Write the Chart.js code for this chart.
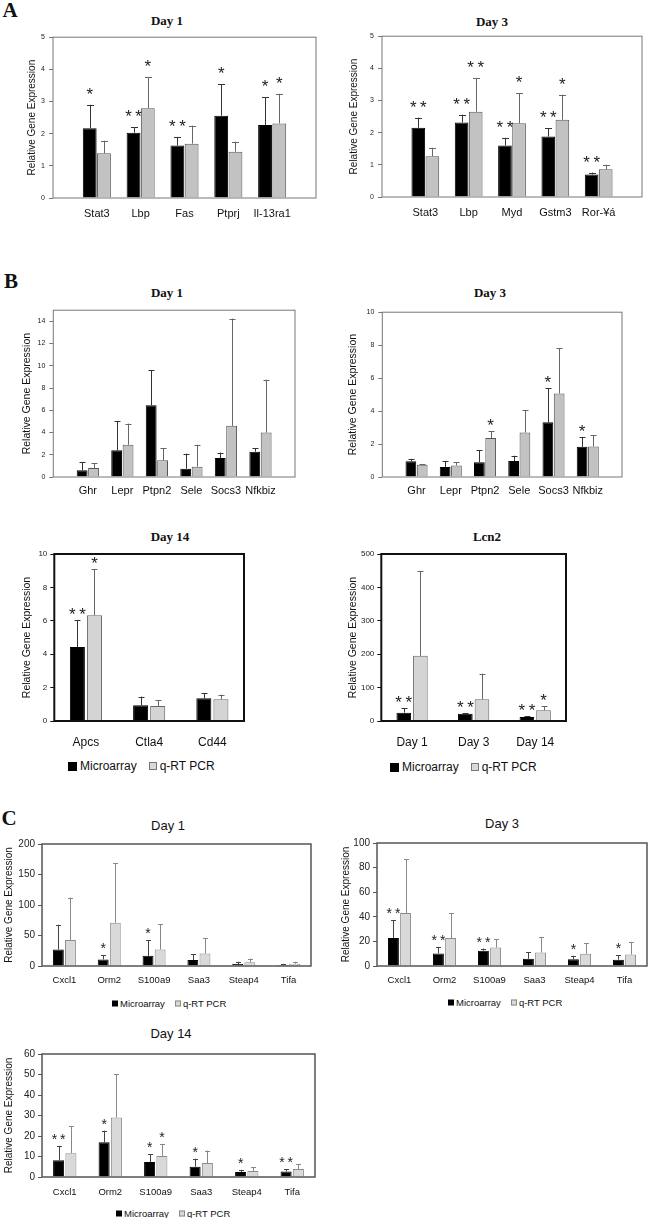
<!DOCTYPE html>
<html>
<head>
<meta charset="utf-8">
<script src="https://cdn.jsdelivr.net/npm/chart.js@4.4.1/dist/chart.umd.min.js"></script>
<style>
  body { margin: 0; background: #fff; width: 650px; height: 1218px; position: relative; overflow: hidden;
         font-family: "Liberation Sans", Arial, sans-serif; color: #111; }
  canvas { position: absolute; }
  .t { position: absolute; transform: translate(-50%, -50%); white-space: nowrap; }
  .serif { font-family: "Liberation Serif", "Times New Roman", serif; font-weight: bold; }
  .lg { position: absolute; transform: translateY(-50%); display: flex; align-items: center; white-space: nowrap; }
  .sw { display: inline-block; box-sizing: border-box; }
</style>
</head>
<body>
<div class="t serif" style="left:10px;top:10px;font-size:21px">A</div>
<div class="t serif" style="left:167px;top:21px;font-size:13px">Day 1</div>
<div class="t serif" style="left:492px;top:22px;font-size:13px">Day 3</div>
<div class="t serif" style="left:11px;top:281px;font-size:21px">B</div>
<div class="t serif" style="left:167px;top:293px;font-size:13px">Day 1</div>
<div class="t serif" style="left:490px;top:293px;font-size:13px">Day 3</div>
<div class="t serif" style="left:170px;top:537px;font-size:13px">Day 14</div>
<div class="t serif" style="left:487px;top:537px;font-size:13px">Lcn2</div>
<div class="t serif" style="left:9px;top:818px;font-size:21px">C</div>
<div class="t" style="left:168px;top:825px;font-size:13px">Day 1</div>
<div class="t" style="left:502px;top:823px;font-size:13px">Day 3</div>
<div class="t" style="left:171px;top:1033px;font-size:13px">Day 14</div>

<div class="lg" style="left:68px;top:766px;font-size:12px">
  <span class="sw" style="width:9px;height:9px;background:#000"></span><span style="margin:0 12px 0 3px">Microarray</span>
  <span class="sw" style="width:8px;height:8px;background:#d9d9d9;border:1px solid #777"></span><span style="margin-left:3px">q-RT PCR</span>
</div>
<div class="lg" style="left:390px;top:767px;font-size:12px">
  <span class="sw" style="width:9px;height:9px;background:#000"></span><span style="margin:0 12px 0 3px">Microarray</span>
  <span class="sw" style="width:8px;height:8px;background:#d9d9d9;border:1px solid #777"></span><span style="margin-left:3px">q-RT PCR</span>
</div>
<div class="lg" style="left:112px;top:1003px;font-size:9.5px">
  <span class="sw" style="width:6px;height:6px;background:#000"></span><span style="margin:0 10px 0 2px">Microarray</span>
  <span class="sw" style="width:6px;height:6px;background:#d9d9d9;border:1px solid #888"></span><span style="margin-left:2px">q-RT PCR</span>
</div>
<div class="lg" style="left:448px;top:1002px;font-size:9.5px">
  <span class="sw" style="width:6px;height:6px;background:#000"></span><span style="margin:0 10px 0 2px">Microarray</span>
  <span class="sw" style="width:6px;height:6px;background:#d9d9d9;border:1px solid #888"></span><span style="margin-left:2px">q-RT PCR</span>
</div>
<div class="lg" style="left:116px;top:1213px;font-size:9.5px">
  <span class="sw" style="width:6px;height:6px;background:#000"></span><span style="margin:0 10px 0 2px">Microarray</span>
  <span class="sw" style="width:6px;height:6px;background:#d9d9d9;border:1px solid #888"></span><span style="margin-left:2px">q-RT PCR</span>
</div>

<canvas id="a1"></canvas>
<canvas id="a3"></canvas>
<canvas id="b1"></canvas>
<canvas id="b3"></canvas>
<canvas id="b14"></canvas>
<canvas id="lcn2"></canvas>
<canvas id="c1"></canvas>
<canvas id="c3"></canvas>
<canvas id="c14"></canvas>

<script>
// A - Day 1
const a1Genes = ['Stat3', 'Lbp', 'Fas', 'Ptprj', 'Il-13ra1'];
const a1Micro = [2.17, 2.03, 1.63, 2.56, 2.27];
const a1MicroSd = [0.73, 0.17, 0.27, 0.98, 0.86];
const a1Pcr = [1.39, 2.79, 1.69, 1.44, 2.32];
const a1PcrSd = [0.39, 0.96, 0.56, 0.31, 0.92];
const a1MicroSig = ['*', '**', '**', '*', '*'];
const a1PcrSig = ['', '*', '', '', '*'];

// A - Day 3
const a3Genes = ['Stat3', 'Lbp', 'Myd', 'Gstm3', 'Ror-¥á'];
const a3Micro = [2.15, 2.32, 1.60, 1.88, 0.70];
const a3MicroSd = [0.32, 0.24, 0.24, 0.25, 0.06];
const a3Pcr = [1.27, 2.65, 2.29, 2.40, 0.86];
const a3PcrSd = [0.26, 1.05, 0.93, 0.78, 0.14];
const a3MicroSig = ['**', '**', '**', '**', '**'];
const a3PcrSig = ['', '**', '*', '*', ''];

// B - Day 1 / Day 3
const bGenes = ['Ghr', 'Lepr', 'Ptpn2', 'Sele', 'Socs3', 'Nfkbiz'];
const b1Micro = [0.6, 2.4, 6.45, 0.75, 1.7, 2.28];
const b1MicroSd = [0.75, 2.6, 3.15, 1.35, 0.5, 0.32];
const b1Pcr = [0.8, 2.9, 1.5, 0.93, 4.6, 4.0];
const b1PcrSd = [0.46, 1.9, 1.1, 1.97, 9.65, 4.75];
const b1MicroSig = ['', '', '', '', '', ''];
const b1PcrSig = ['', '', '', '', '', ''];

const b3Micro = [0.95, 0.6, 0.9, 0.97, 3.32, 1.83];
const b3MicroSd = [0.15, 0.37, 0.73, 0.32, 2.07, 0.58];
const b3Pcr = [0.75, 0.7, 2.37, 2.7, 5.07, 1.85];
const b3PcrSd = [0.02, 0.2, 0.41, 1.34, 2.73, 0.69];
const b3MicroSig = ['', '', '', '', '*', '*'];
const b3PcrSig = ['', '', '*', '', '', ''];

// B - Day 14
const b14Genes = ['Apcs', 'Ctla4', 'Cd44'];
const b14Micro = [4.43, 0.94, 1.36];
const b14MicroSd = [1.62, 0.52, 0.3];
const b14Pcr = [6.33, 0.9, 1.3];
const b14PcrSd = [2.75, 0.36, 0.28];
const b14MicroSig = ['**', '', ''];
const b14PcrSig = ['*', '', ''];

// B - Lcn2
const lcnDays = ['Day 1', 'Day 3', 'Day 14'];
const lcnMicro = [25, 22, 12];
const lcnMicroSd = [14, 2, 3];
const lcnPcr = [195, 65, 32];
const lcnPcrSd = [254, 77, 13];
const lcnMicroSig = ['**', '**', '**'];
const lcnPcrSig = ['', '', '*'];

// C
const cGenes = ['Cxcl1', 'Orm2', 'S100a9', 'Saa3', 'Steap4', 'Tifa'];
const c1Micro = [27, 10.8, 16.8, 9.7, 3.2, 1.6];
const c1MicroSd = [40.6, 6.5, 25.2, 9.8, 3.8, 1.1];
const c1Pcr = [42.7, 70.8, 27, 20.5, 6, 3.8];
const c1PcrSd = [69.3, 97.8, 41.6, 24.9, 6, 3.2];
const c1MicroSig = ['', '*', '*', '', '', ''];
const c1PcrSig = ['', '', '', '', '', ''];

const c3Micro = [22.8, 10.2, 12.4, 5.9, 5.4, 5.1];
const c3MicroSd = [14.2, 5.4, 1.8, 5.4, 2.9, 3.8];
const c3Pcr = [43, 22.8, 15, 11, 9.9, 9.4];
const c3PcrSd = [43.8, 20.2, 6.8, 12.7, 8.4, 10.2];
const c3MicroSig = ['**', '**', '**', '', '*', '*'];
const c3PcrSig = ['', '', '', '', '', ''];

const c14Micro = [8.2, 16.9, 7.3, 5.0, 2.4, 2.7];
const c14MicroSd = [7.0, 5.7, 3.7, 3.9, 1.1, 1.0];
const c14Pcr = [11.6, 29, 10.3, 6.8, 2.9, 3.9];
const c14PcrSd = [13.2, 21, 5.8, 6.1, 1.9, 2.4];
const c14MicroSig = ['**', '*', '*', '*', '*', '**'];
const c14PcrSig = ['', '', '*', '', '', ''];

const SANS = "'Liberation Sans', Arial, sans-serif";

// error bars, significance stars and the box around the plot
const barExtras = {
  id: 'barExtras',
  afterDatasetsDraw(chart, args, o) {
    const ctx = chart.ctx;
    const ys = chart.scales.y;
    const area = chart.chartArea;
    ctx.save();
    chart.data.datasets.forEach((ds, i) => {
      chart.getDatasetMeta(i).data.forEach((bar, j) => {
        const v = ds.data[j];
        if (v == null) return;
        const top = ys.getPixelForValue(v + ds.sd[j]);
        const x = Math.round(bar.x) + 0.5;
        ctx.strokeStyle = ds.errColor;
        ctx.lineWidth = 1;
        ctx.beginPath();
        ctx.moveTo(x, bar.y);
        ctx.lineTo(x, top);
        ctx.moveTo(x - o.cap / 2, Math.round(top) + 0.5);
        ctx.lineTo(x + o.cap / 2, Math.round(top) + 0.5);
        ctx.stroke();

        const sig = ds.sig[j];
        if (sig) {
          ctx.font = o.starSize + 'px ' + SANS;
          ctx.fillStyle = '#222';
          ctx.textAlign = 'center';
          ctx.textBaseline = 'alphabetic';
          const m = ctx.measureText('*');
          const cy = top - o.starGap;
          const base = cy - (m.actualBoundingBoxDescent - m.actualBoundingBoxAscent) / 2;
          const step = o.starSize * 0.6;
          for (let k = 0; k < sig.length; k++) {
            ctx.fillText('*', bar.x + (k - (sig.length - 1) / 2) * step, base);
          }
        }
      });
    });
    ctx.strokeStyle = o.frameColor;
    ctx.lineWidth = o.frameWidth;
    ctx.strokeRect(area.left, area.top, area.right - area.left, area.bottom - area.top);
    ctx.restore();
  }
};

function makeChart(id, s) {
  const wrap = arr => s.padEnds ? [null, ...arr, null] : arr;
  const labels = s.padEnds ? ['', ...s.labels, ''] : s.labels;
  const left = s.titleX - 0.6 * s.titleSize;
  const yw = s.box.l - left;
  const canvas = document.getElementById(id);
  canvas.width = Math.round(s.box.r - left + 4);
  canvas.height = s.box.b - s.box.t + 8 + 30;
  canvas.style.left = left + 'px';
  canvas.style.top = (s.box.t - 8) + 'px';

  new Chart(canvas, {
    type: 'bar',
    data: {
      labels: labels,
      datasets: [
        { label: 'Microarray', data: wrap(s.micro), sd: wrap(s.microSd), sig: wrap(s.microSig),
          backgroundColor: '#000', borderColor: '#000', borderWidth: 1, errColor: s.errDark,
          categoryPercentage: s.catPct, barPercentage: s.barPct },
        { label: 'q-RT PCR', data: wrap(s.pcr), sd: wrap(s.pcrSd), sig: wrap(s.pcrSig),
          backgroundColor: s.gray, borderColor: s.grayEdge, borderWidth: 1, errColor: s.errLight,
          categoryPercentage: s.catPct, barPercentage: s.barPct }
      ]
    },
    options: {
      responsive: false,
      animation: false,
      layout: { padding: { top: 8, right: 4, left: 0, bottom: 0 } },
      plugins: {
        legend: { display: false },
        tooltip: { enabled: false },
        barExtras: { cap: s.cap, starSize: s.starSize, starGap: s.starGap,
                     frameColor: s.frameColor, frameWidth: s.frameWidth }
      },
      scales: {
        x: {
          offset: !s.padEnds,
          grid: { display: false, tickLength: 0 },
          border: { display: false },
          ticks: { font: { size: s.xFont, family: SANS }, color: '#111', padding: s.xPad,
                    maxRotation: 0, autoSkip: false },
          afterFit: sc => { sc.height = 30; }
        },
        y: {
          min: 0,
          max: s.max,
          afterBuildTicks: sc => { sc.ticks = sc.ticks.filter(t => t.value % s.step === 0); },
          ticks: { stepSize: s.step, font: { size: s.tickFont, family: SANS }, color: '#222', padding: s.tickPad },
          grid: { drawOnChartArea: false, tickLength: 4, color: s.frameColor },
          border: { display: false },
          title: { display: true, text: 'Relative Gene Expression', color: '#111', padding: 0,
                   font: { size: s.titleSize, family: SANS } },
          afterFit: sc => { sc.width = yw; }
        }
      }
    },
    plugins: [barExtras]
  });
}

const styleA = { padEnds: true, catPct: 0.65, barPct: 0.97, gray: '#c2c2c2', grayEdge: '#555',
                 errDark: '#333', errLight: '#666', cap: 7, starSize: 17, starGap: 14,
                 frameColor: '#777', frameWidth: 1, tickFont: 7, tickPad: 4, xFont: 11, xPad: 9, titleSize: 10 };
const styleB14 = { padEnds: false, catPct: 0.54, barPct: 0.88, gray: '#d4d4d4', grayEdge: '#666',
                   errDark: '#333', errLight: '#666', cap: 6, starSize: 17, starGap: 9,
                   frameColor: '#111', frameWidth: 2, tickFont: 8, tickPad: 3, xFont: 12, xPad: 14, titleSize: 10.5 };
const styleC = { padEnds: false, catPct: 0.54, barPct: 0.9, gray: '#d9d9d9', grayEdge: '#8c8c8c',
                 errDark: '#444', errLight: '#888', cap: 5, starSize: 14, starGap: 9,
                 frameColor: '#555', frameWidth: 1.5, tickFont: 10, tickPad: 3, xFont: 9.5, xPad: 9, titleSize: 10 };

makeChart('a1', Object.assign({}, styleA, {
  box: { l: 53, t: 37, r: 321, b: 198 }, titleX: 32, max: 5, step: 1,
  labels: a1Genes, micro: a1Micro, microSd: a1MicroSd, pcr: a1Pcr, pcrSd: a1PcrSd,
  microSig: a1MicroSig, pcrSig: a1PcrSig }));

makeChart('a3', Object.assign({}, styleA, {
  box: { l: 382, t: 36, r: 647, b: 197 }, titleX: 354, max: 5, step: 1,
  labels: a3Genes, micro: a3Micro, microSd: a3MicroSd, pcr: a3Pcr, pcrSd: a3PcrSd,
  microSig: a3MicroSig, pcrSig: a3PcrSig }));

makeChart('b1', Object.assign({}, styleA, {
  box: { l: 53, t: 310, r: 298, b: 477 }, titleX: 27, max: 15, step: 2, catPct: 0.66, barPct: 0.95,
  xPad: 7, titleSize: 10.5, starGap: 9, cap: 6,
  labels: bGenes, micro: b1Micro, microSd: b1MicroSd, pcr: b1Pcr, pcrSd: b1PcrSd,
  microSig: b1MicroSig, pcrSig: b1PcrSig }));

makeChart('b3', Object.assign({}, styleA, {
  box: { l: 382, t: 312, r: 625, b: 477 }, titleX: 353, max: 10, step: 2, catPct: 0.66, barPct: 0.95,
  xPad: 7, titleSize: 10.5, starGap: 9, cap: 6,
  labels: bGenes, micro: b3Micro, microSd: b3MicroSd, pcr: b3Pcr, pcrSd: b3PcrSd,
  microSig: b3MicroSig, pcrSig: b3PcrSig }));

makeChart('b14', Object.assign({}, styleB14, {
  box: { l: 54, t: 554, r: 244, b: 721 }, titleX: 27, max: 10, step: 2,
  labels: b14Genes, micro: b14Micro, microSd: b14MicroSd, pcr: b14Pcr, pcrSd: b14PcrSd,
  microSig: b14MicroSig, pcrSig: b14PcrSig }));

makeChart('lcn2', Object.assign({}, styleB14, {
  box: { l: 381, t: 554, r: 566, b: 721 }, titleX: 353, max: 500, step: 100,
  labels: lcnDays, micro: lcnMicro, microSd: lcnMicroSd, pcr: lcnPcr, pcrSd: lcnPcrSd,
  microSig: lcnMicroSig, pcrSig: lcnPcrSig }));

makeChart('c1', Object.assign({}, styleC, {
  box: { l: 42, t: 843, r: 311, b: 966 }, titleX: 9, max: 200, step: 50,
  labels: cGenes, micro: c1Micro, microSd: c1MicroSd, pcr: c1Pcr, pcrSd: c1PcrSd,
  microSig: c1MicroSig, pcrSig: c1PcrSig }));

makeChart('c3', Object.assign({}, styleC, {
  box: { l: 377, t: 842, r: 647, b: 966 }, titleX: 346, max: 100, step: 20,
  labels: cGenes, micro: c3Micro, microSd: c3MicroSd, pcr: c3Pcr, pcrSd: c3PcrSd,
  microSig: c3MicroSig, pcrSig: c3PcrSig }));

makeChart('c14', Object.assign({}, styleC, {
  box: { l: 42, t: 1053, r: 315, b: 1177 }, titleX: 9, max: 60, step: 10, xPad: 10,
  labels: cGenes, micro: c14Micro, microSd: c14MicroSd, pcr: c14Pcr, pcrSd: c14PcrSd,
  microSig: c14MicroSig, pcrSig: c14PcrSig }));
</script>
</body>
</html>
